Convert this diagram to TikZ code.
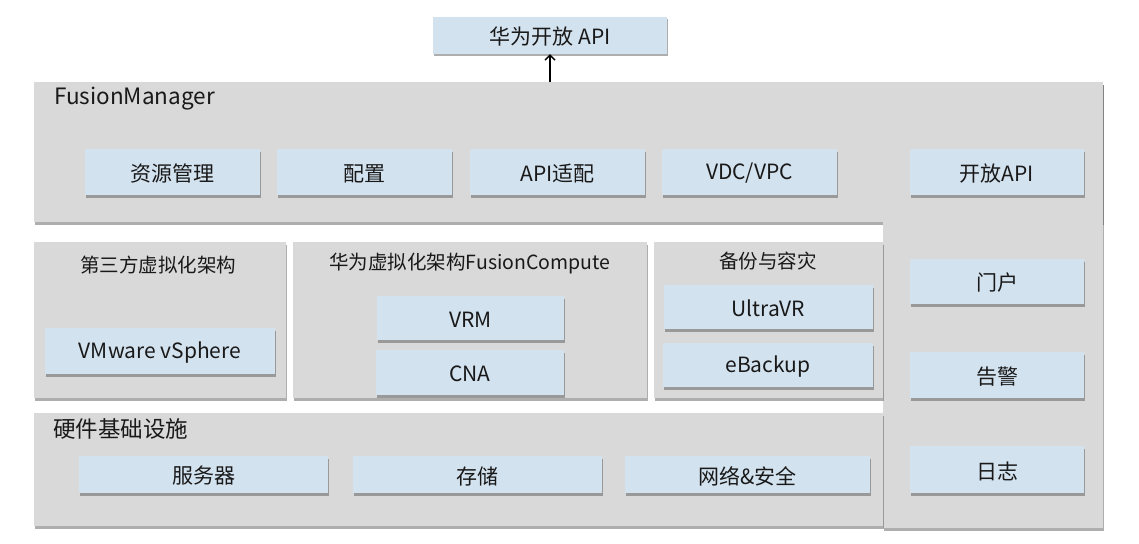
\documentclass[tikz,border=0pt]{standalone}
\usepackage{fontspec}
\setmainfont{Noto Sans CJK SC}
\usetikzlibrary{shadows,arrows.meta}
\definecolor{panelgray}{RGB}{217,217,217}
\definecolor{boxblue}{RGB}{211,226,239}
\tikzset{
  panel/.style={fill=panelgray, draw=none, drop shadow={shadow xshift=1pt, shadow yshift=-2.5pt, fill=black!70, opacity=0.45}},
  bluebox/.style={fill=boxblue, draw=none, font=\fontsize{21}{24}\selectfont, text=black!90, inner sep=0pt,
    drop shadow={shadow xshift=1pt, shadow yshift=-2.5pt, fill=black!70, opacity=0.45}},
  boxtext/.style={font=\fontsize{21}{24}\selectfont, text=black!90, inner sep=0pt},
  bigtitle/.style={font=\fontsize{22.5}{26}\selectfont, text=black!90, inner sep=0pt, anchor=west},
  midtitle/.style={font=\fontsize{19.5}{23}\selectfont, text=black!90, inner sep=0pt},
}
\newcommand\bx[7]{\node[#6, minimum width={(#4)-(#2)}, minimum height={(#5)-(#3)}] (#1) at ({((#2)+(#4))/2},{((#3)+(#5))/2}) {};
  \node[boxtext] (#1-t) at ([yshift=-1.5pt]#1.center) {#7};}
\begin{document}
\begin{tikzpicture}[x=1pt,y=-1pt]
\useasboundingbox (0,0) rectangle (1139,543);
% top api
\bx{api}{433}{17}{667}{54}{bluebox}{华为开放 API}
% FusionManager panel
\bx{fm}{34}{82}{1103}{222}{panel}{}
% right column
\bx{col}{883}{82}{1103}{528}{panel}{}
\node[bigtitle] (fmt) at (54,99) {FusionManager};
\bx{res}{85}{149}{260}{195}{bluebox}{资源管理}
\bx{cfg}{277}{149}{452}{195}{bluebox}{配置}
\bx{apiad}{470}{149}{645}{195}{bluebox}{API适配}
\bx{vdc}{662}{149}{837}{195}{bluebox}{VDC/VPC}
\bx{open}{910}{149}{1084}{195}{bluebox}{开放API}
% right column items
\bx{portal}{910}{259}{1084}{304}{bluebox}{门户}
\bx{alarm}{910}{352}{1084}{398}{bluebox}{告警}
\bx{log}{910}{446}{1084}{493}{bluebox}{日志}
% middle row
\bx{third}{34}{242}{286}{398}{panel}{}
\node[midtitle] (thirdt) at (158,265) {第三方虚拟化架构};
\bx{vmw}{45}{328}{275}{374}{bluebox}{VMware vSphere}
\bx{fc}{293}{242}{647}{398}{panel}{}
\node[midtitle] (fct) at (470,264) {华为虚拟化架构FusionCompute};
\bx{vrm}{377}{296}{564}{340}{bluebox}{VRM}
\bx{cna}{376}{350}{564}{395}{bluebox}{CNA}
\bx{bak}{654}{242}{883}{398}{panel}{}
\node[midtitle] (bakt) at (768,261) {备份与容灾};
\bx{uvr}{664}{285}{873}{329}{bluebox}{UltraVR}
\bx{eb}{663}{343}{873}{387}{bluebox}{eBackup}
% hardware
\bx{hw}{34}{413}{883}{526}{panel}{}
\node[bigtitle] (hwt) at (53,429) {硬件基础设施};
\bx{srv}{79}{456}{328}{493}{bluebox}{服务器}
\bx{sto}{353}{456}{602}{493}{bluebox}{存储}
\bx{net}{625}{456}{870}{493}{bluebox}{网络\&安全}
% arrow
\draw[-{Straight Barb[length=5pt,width=10pt]}, line width=1.4pt, black] (fm.north -| api.south) -- (api.south);
\end{tikzpicture}
\end{document}
